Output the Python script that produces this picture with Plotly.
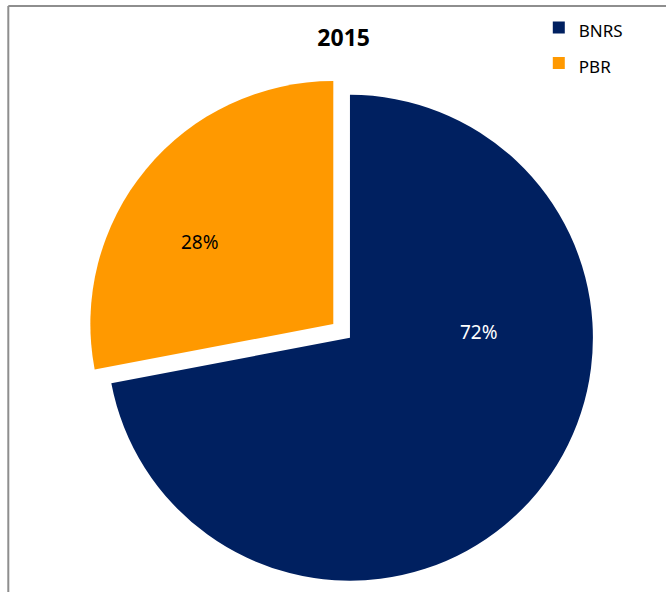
import plotly.graph_objects as go

# ---- data ----
title_text = "2015"
labels = ["BNRS", "PBR"]
values = [72, 28]
colors = ["#002060", "#FF9900"]
label_colors = ["#FFFFFF", "#000000"]
pulls = [0.089, 0]
# data-label anchor positions (paper fractions), as placed in the reference
label_x = [0.7192, 0.3009]
label_y = [0.4392, 0.5912]

W, H = 666, 592
FONT = "Noto Sans"
total = sum(values)

fig = go.Figure()
fig.add_trace(go.Pie(
    labels=[f"<span style='font-size:17px'>{l}</span>" for l in labels],
    values=values,
    sort=False,
    direction="clockwise",
    rotation=0,
    pull=pulls,
    marker=dict(colors=colors, line=dict(width=0)),
    textinfo="none",
    hoverinfo="label+percent",
    domain=dict(x=[0.1032, 0.8977], y=[0.0057, 0.8997]),
))

annotations = [
    dict(text=f"{round(v / total * 100)}%", x=lx, y=ly, xref="paper", yref="paper",
         xanchor="center", yanchor="middle", showarrow=False,
         font=dict(family=FONT, size=19, color=c))
    for v, lx, ly, c in zip(values, label_x, label_y, label_colors)
]

fig.update_layout(
    width=W, height=H,
    margin=dict(l=0, r=0, t=0, b=0),
    paper_bgcolor="white",
    plot_bgcolor="white",
    font=dict(family=FONT, color="#000000"),
    title=dict(text=f"<b>{title_text}</b>", x=0.516, y=0.936, xanchor="center",
               yanchor="middle", font=dict(family=FONT, size=23, color="#000000")),
    legend=dict(x=0.809, y=0.992, xanchor="left", yanchor="top",
                font=dict(family=FONT, size=25, color="#000000"),
                bgcolor="rgba(0,0,0,0)", borderwidth=0, itemwidth=30),
    annotations=annotations,
    shapes=[
        dict(type="line", xref="paper", yref="paper", x0=8.3 / W, x1=8.3 / W,
             y0=0, y1=1 - 6 / H, line=dict(color="#8E8E8E", width=2)),
        dict(type="line", xref="paper", yref="paper", x0=8.3 / W, x1=1,
             y0=1 - 6 / H, y1=1 - 6 / H, line=dict(color="#8E8E8E", width=2)),
    ],
)

fig.write_html("out.html", config={"displayModeBar": False},
               post_script="document.body.style.margin='0';")
